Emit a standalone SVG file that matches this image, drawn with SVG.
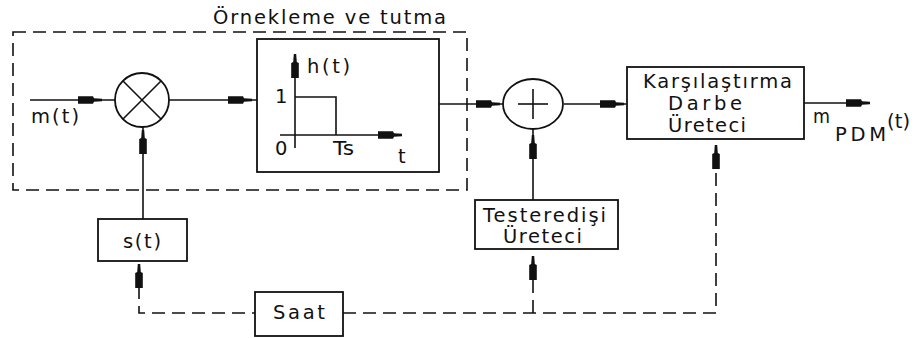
<svg xmlns="http://www.w3.org/2000/svg" xmlns:xlink="http://www.w3.org/1999/xlink" width="915" height="338" viewBox="0 0 915 338">
<defs>
<style>
.ln{fill:none;stroke:#111;stroke-width:1.6}
.ds{fill:none;stroke:#111;stroke-width:1.6;stroke-dasharray:13 7}
.bx{fill:#fff;stroke:#111;stroke-width:1.8}
.t{font-family:"DejaVu Sans","Verdana",sans-serif;font-size:19.5px;fill:#111}
</style>
<path id="ah" d="M-24,-3.8 L-9,-3.8 L-8,-1.8 L0,-1.2 L0,1.2 L-8,1.8 L-9,3.8 L-24,3.8 Z" fill="#111"/>
</defs>
<rect width="915" height="338" fill="#fff"/>

<g id="sample-hold-frame">
<rect x="13" y="32" width="454" height="158" class="ds"/>
<text class="t" x="213" y="24" textLength="233" lengthAdjust="spacing">Örnekleme ve tutma</text>
</g>

<g id="connectors">
<line x1="30" y1="100" x2="115" y2="100" class="ln"/>
<line x1="169" y1="100" x2="257" y2="100" class="ln"/>
<line x1="439" y1="104" x2="503" y2="104" class="ln"/>
<line x1="564" y1="104" x2="627" y2="104" class="ln"/>
<line x1="804" y1="103" x2="864" y2="103" class="ln"/>
<line x1="143" y1="219" x2="143" y2="126" class="ln"/>
<line x1="533" y1="200" x2="533" y2="129" class="ln"/>
<path d="M139,286 V313 H255" class="ds"/>
<path d="M343,313 H716 V166" class="ds"/>
<line x1="533" y1="313" x2="533" y2="278" class="ds"/>
<use xlink:href="#ah" transform="translate(102,100)"/>
<use xlink:href="#ah" transform="translate(252,100)"/>
<use xlink:href="#ah" transform="translate(500,104)"/>
<use xlink:href="#ah" transform="translate(624,104)"/>
<use xlink:href="#ah" transform="translate(870,103)"/>
<use xlink:href="#ah" transform="translate(143,130) rotate(-90)"/>
<use xlink:href="#ah" transform="translate(533,135) rotate(-90)"/>
<use xlink:href="#ah" transform="translate(716,145) rotate(-90)"/>
<use xlink:href="#ah" transform="translate(533,256) rotate(-90)"/>
<use xlink:href="#ah" transform="translate(139,264) rotate(-90)"/>
</g>

<g id="input-label">
<text class="t" x="31" y="123" textLength="48" lengthAdjust="spacing">m(t)</text>
</g>

<g id="multiplier">
<circle cx="142" cy="100" r="27" class="bx"/>
<line x1="123" y1="81" x2="161" y2="119" class="ln"/>
<line x1="161" y1="81" x2="123" y2="119" class="ln"/>
</g>

<g id="hold-block">
<rect x="257" y="39" width="182" height="133" class="bx"/>
<line x1="295" y1="148" x2="295" y2="56" class="ln"/>
<use xlink:href="#ah" transform="translate(295,54) rotate(-90)"/>
<line x1="280" y1="135" x2="390" y2="135" class="ln"/>
<use xlink:href="#ah" transform="translate(402,135)"/>
<polyline points="295,97 336,97 336,135" class="ln"/>
<text class="t" x="307" y="73" textLength="43" lengthAdjust="spacing">h(t)</text>
<text class="t" x="275" y="103">1</text>
<text class="t" x="275" y="155">0</text>
<text class="t" x="333" y="155" textLength="21" lengthAdjust="spacingAndGlyphs">Ts</text>
<text class="t" x="398" y="163">t</text>
</g>

<g id="adder">
<ellipse cx="533" cy="104" rx="30" ry="25" class="bx"/>
<line x1="518" y1="104" x2="548" y2="104" class="ln"/>
<line x1="533" y1="89" x2="533" y2="119" class="ln"/>
</g>

<g id="comparator">
<rect x="627" y="67" width="177" height="72" class="bx"/>
<text class="t" x="643" y="88" textLength="149" lengthAdjust="spacing">Karşılaştırma</text>
<text class="t" x="668" y="110" textLength="74" lengthAdjust="spacing">Darbe</text>
<text class="t" x="668" y="132" textLength="78" lengthAdjust="spacing">Üreteci</text>
</g>

<g id="output-label">
<text class="t" x="813" y="123" textLength="17" lengthAdjust="spacingAndGlyphs">m</text>
<text class="t" x="835" y="141" textLength="51" lengthAdjust="spacing">PDM</text>
<text class="t" x="887" y="128" textLength="23" lengthAdjust="spacing">(t)</text>
</g>

<g id="sawtooth">
<rect x="475" y="200" width="143" height="49" class="bx"/>
<text class="t" x="483" y="222" textLength="123" lengthAdjust="spacing">Testeredişi</text>
<text class="t" x="503" y="243" textLength="79" lengthAdjust="spacing">Üreteci</text>
</g>

<g id="carrier">
<rect x="98" y="219" width="89" height="42" class="bx"/>
<text class="t" x="123" y="248" textLength="38" lengthAdjust="spacing">s(t)</text>
</g>

<g id="clock">
<rect x="255" y="292" width="88" height="44" class="bx"/>
<text class="t" x="273" y="319" textLength="52" lengthAdjust="spacing">Saat</text>
</g>
</svg>
